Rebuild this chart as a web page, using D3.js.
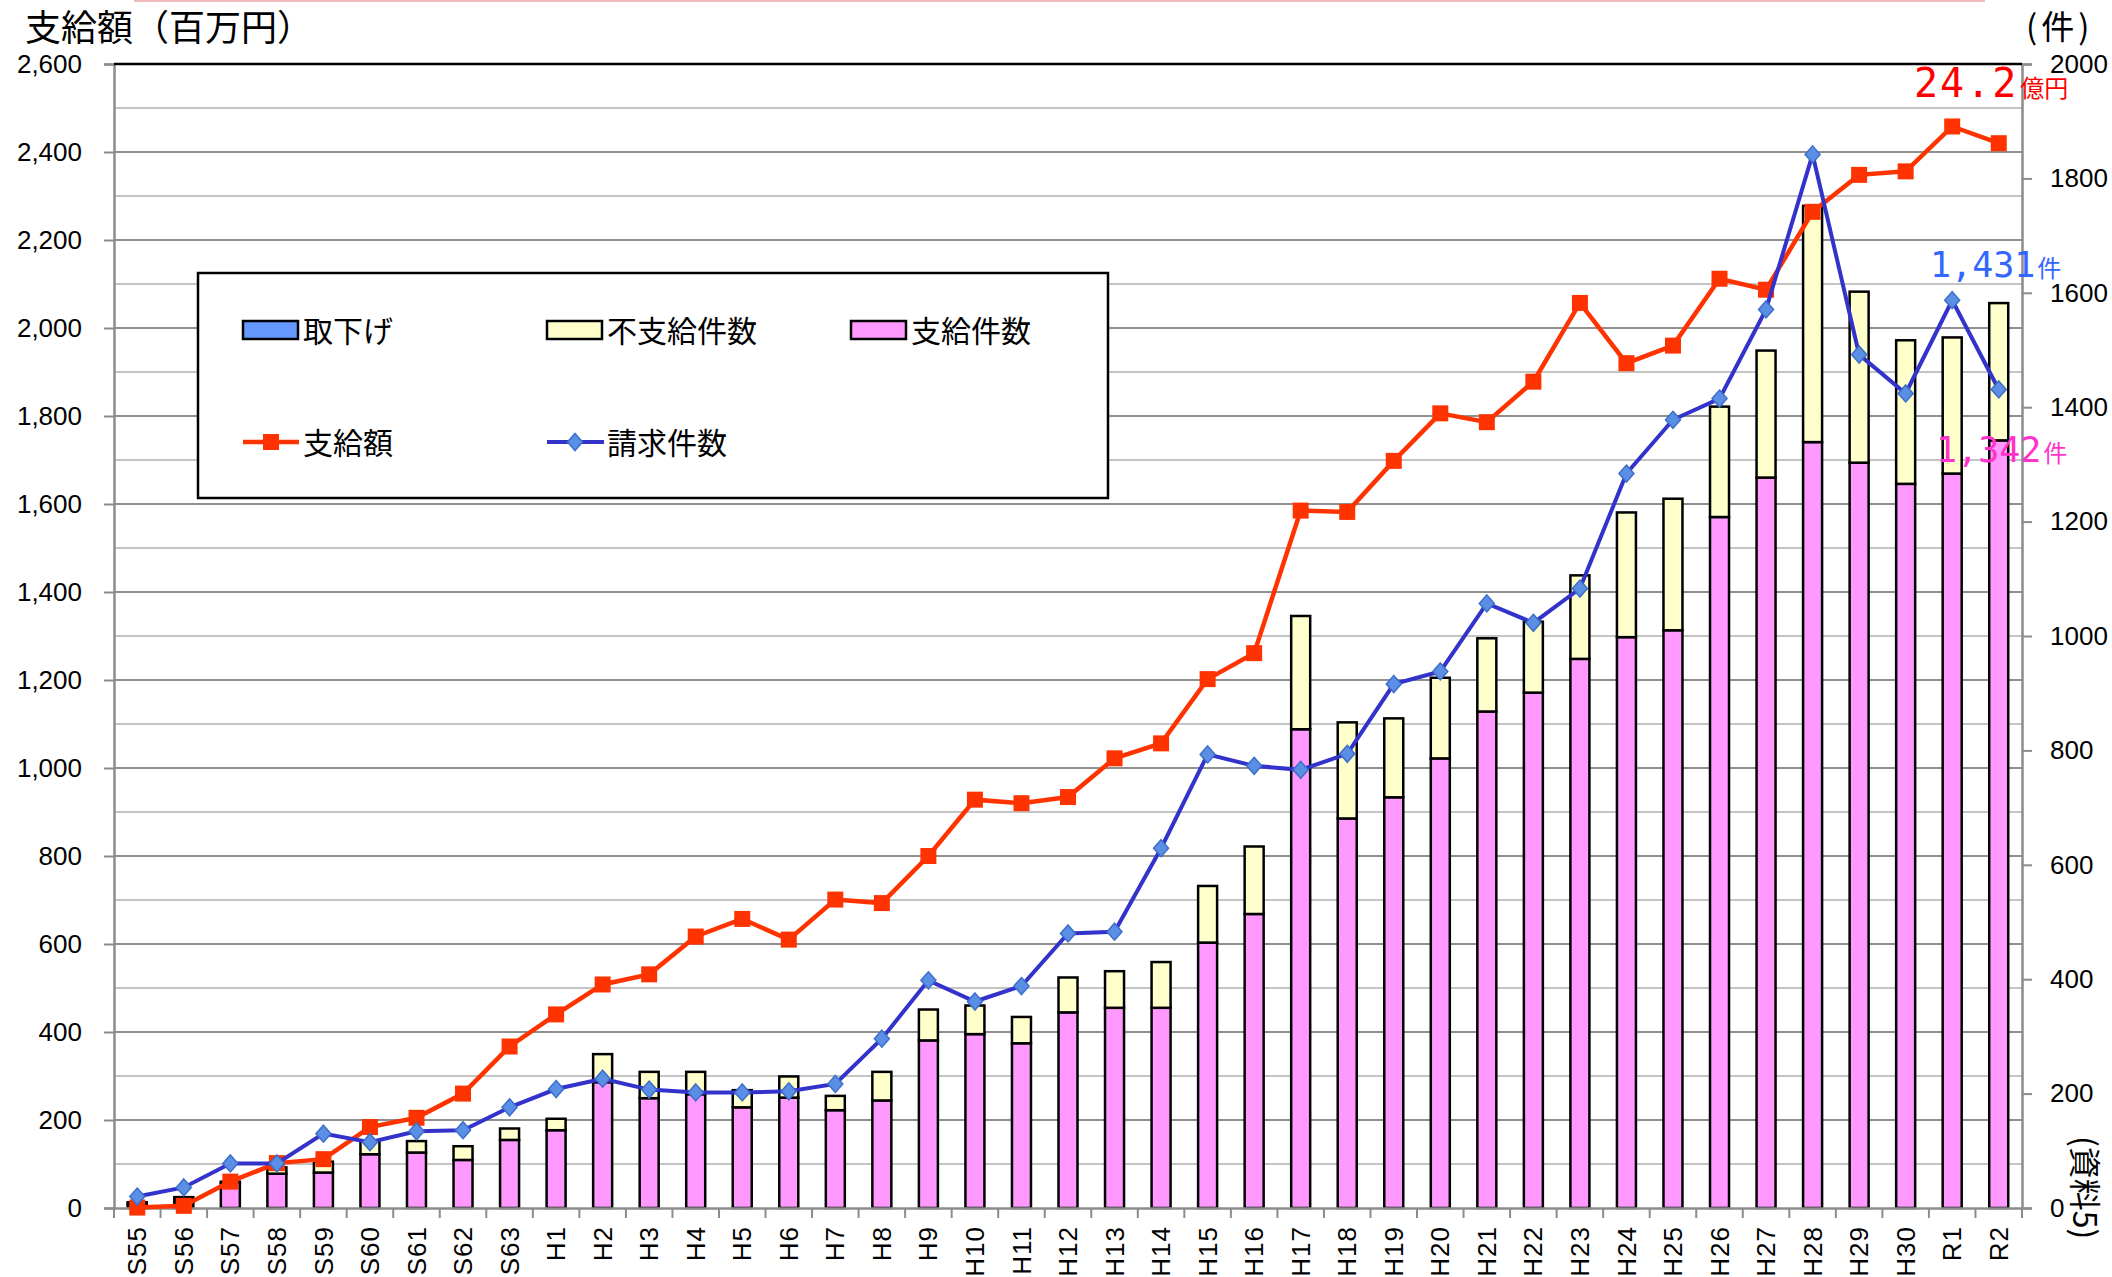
<!DOCTYPE html>
<html><head><meta charset="utf-8">
<script src="https://cdn.jsdelivr.net/npm/d3@7"></script>
<style>
html,body{margin:0;padding:0;background:#fff;}
svg{display:block;}
</style></head>
<body>
<svg id="chart" width="2112" height="1277"></svg>
<script>
// ---- data ----
const categories = ["S55","S56","S57","S58","S59","S60","S61","S62","S63",
  "H1","H2","H3","H4","H5","H6","H7","H8","H9","H10","H11","H12","H13","H14","H15",
  "H16","H17","H18","H19","H20","H21","H22","H23","H24","H25","H26","H27","H28","H29","H30",
  "R1","R2"];
// 支給額 (百万円) - left axis
const paidAmount = [1,5,60,102,111,184,205,260,367,
  440,508,531,617,657,610,701,693,800,928,920,934,1022,1056,1202,
  1261,1585,1582,1698,1806,1786,1878,2057,1920,1960,2112,2087,2264,2348,2356,
  2458,2420];
// 請求件数 - right axis
const claims = [20,36,78,78,130,115,134,136,176,
  208,226,207,202,202,204,217,296,398,361,388,480,483,629,793,
  773,766,794,916,938,1057,1023,1083,1284,1378,1415,1571,1842,1492,1424,
  1587,1431];
// 支給件数 - right axis (stack bottom)
const paidCount = [5,10,44,60,62,94,97,84,119,
  136,220,192,199,176,193,171,188,293,304,288,342,350,350,464,
  514,837,681,718,786,868,901,960,998,1010,1208,1277,1339,1303,1266,
  1284,1342];
// 不支給件数
const notPaidCount = [3,5,2,11,19,23,20,24,20,
  20,49,46,39,30,37,25,50,54,50,46,61,64,80,99,
  118,198,168,138,141,128,124,146,218,230,193,222,413,299,251,
  238,240];
// 取下げ
const withdrawn = [2,4,0,0,0,0,0,0,0,
  0,0,0,0,0,0,0,0,0,0,0,0,0,0,0,
  0,0,0,0,0,0,0,0,0,0,0,0,0,0,0,
  0,0];
const leftTicks = d3.range(0, 2601, 200);
const rightTicks = d3.range(0, 2001, 200);

// ---- styles ----
const C = {paid:"#ff99ff", notPaid:"#ffffcc", withdrawn:"#6699ff",
  amount:"#ff3300", claims:"#3333cc", diamond:"#5b8fe6", diamondStroke:"#3d6fc9"};
const svg = d3.select("#chart");
const L = 114, R = 2022, T = 64, B = 1208;

const x = d3.scaleBand().domain(categories).range([L, R]).padding(0);
const yL = d3.scaleLinear().domain([0, 2600]).range([B, T]);
const yR = d3.scaleLinear().domain([0, 2000]).range([B, T]);

// top faint line
svg.append("line").attr("x1",134).attr("x2",1985).attr("y1",1).attr("y2",1)
  .attr("stroke","#f2bcbc").attr("stroke-width",2);

// gridlines
const grid = svg.append("g");
d3.range(100, 2600, 100).forEach(v => {
  grid.append("line").attr("x1",L).attr("x2",R).attr("y1",yL(v)).attr("y2",yL(v))
    .attr("stroke", v % 200 === 0 ? "#8f8f8f" : "#c4c4c4").attr("stroke-width",2);
});

// stacked bars
const stackData = categories.map((c,i)=>({cat:c, paid:paidCount[i], notPaid:notPaidCount[i], withdrawn:withdrawn[i]}));
const keys = ["paid","notPaid","withdrawn"];
const series = d3.stack().keys(keys)(stackData);
const bw = 19;
const barG = svg.append("g");
series.forEach(s => {
  barG.selectAll(null).data(s.filter(d => d[1] - d[0] > 0)).join("rect")
    .attr("x", d => x(d.data.cat) + x.bandwidth()/2 - bw/2)
    .attr("width", bw)
    .attr("y", d => yR(d[1]))
    .attr("height", d => yR(d[0]) - yR(d[1]))
    .attr("fill", C[s.key])
    .attr("stroke", "#000").attr("stroke-width", 2.5);
});

// axes
const axL = svg.append("g").attr("transform",`translate(${L},0)`)
  .call(d3.axisLeft(yL).tickValues(leftTicks).tickFormat(d3.format(",")).tickSize(10).tickPadding(22));
const axR = svg.append("g").attr("transform",`translate(${R},0)`)
  .call(d3.axisRight(yR).tickValues(rightTicks).tickFormat(d3.format("d")).tickSize(10).tickPadding(18));
[axL, axR].forEach(a => {
  a.select(".domain").attr("stroke","#8c8c8c").attr("stroke-width",2.5);
  a.selectAll(".tick line").attr("stroke","#8c8c8c").attr("stroke-width",2);
  a.selectAll("text").attr("font-family","'Liberation Sans', Arial, sans-serif")
    .attr("font-size",26).attr("fill","#000");
});
const axB = svg.append("g").attr("transform",`translate(0,${B})`)
  .call(d3.axisBottom(x).tickSize(0).tickPadding(0));
axB.select(".domain").attr("stroke","#8c8c8c").attr("stroke-width",2.5);
axB.selectAll(".tick text")
  .attr("font-family","'Liberation Sans', Arial, sans-serif").attr("font-size",26).attr("fill","#000")
  .attr("letter-spacing",1)
  .attr("transform","translate(0,18) rotate(-90)")
  .attr("text-anchor","end").attr("dy","0.35em").attr("y",0).attr("x",0);
// boundary ticks on x axis
svg.append("g").selectAll("line").data(d3.range(categories.length + 1)).join("line")
  .attr("x1", i => L + i * x.step()).attr("x2", i => L + i * x.step())
  .attr("y1", B).attr("y2", B + 10).attr("stroke","#8c8c8c").attr("stroke-width",2);

// top border
svg.append("line").attr("x1",L).attr("x2",R).attr("y1",T).attr("y2",T)
  .attr("stroke","#000").attr("stroke-width",2.5);

const cx = c => x(c) + x.bandwidth()/2;
// amount line (left axis)
svg.append("path").datum(paidAmount)
  .attr("d", d3.line().x((d,i)=>cx(categories[i])).y(d=>yL(d)))
  .attr("fill","none").attr("stroke",C.amount).attr("stroke-width",4.5);
svg.append("g").selectAll("rect").data(paidAmount).join("rect")
  .attr("x",(d,i)=>cx(categories[i])-8).attr("y",d=>yL(d)-8)
  .attr("width",16).attr("height",16).attr("fill",C.amount);

// claims line (right axis)
const diamond = "M0,-8.5L7.5,0L0,8.5L-7.5,0Z";
svg.append("path").datum(claims)
  .attr("d", d3.line().x((d,i)=>cx(categories[i])).y(d=>yR(d)))
  .attr("fill","none").attr("stroke",C.claims).attr("stroke-width",4);
svg.append("g").selectAll("path").data(claims).join("path")
  .attr("transform",(d,i)=>`translate(${cx(categories[i])},${yR(d)})`)
  .attr("d",diamond).attr("fill",C.diamond).attr("stroke",C.diamondStroke).attr("stroke-width",1.5);

// legend
const lg = svg.append("g");
lg.append("rect").attr("x",198).attr("y",273).attr("width",910).attr("height",225)
  .attr("fill","#fff").attr("stroke","#000").attr("stroke-width",2.5);
const jp = "'Noto Sans CJK JP', sans-serif";
const legendBars = [
  {label:"取下げ", color:C.withdrawn, x:243},
  {label:"不支給件数", color:C.notPaid, x:547},
  {label:"支給件数", color:C.paid, x:851}];
legendBars.forEach(d => {
  lg.append("rect").attr("x",d.x).attr("y",321).attr("width",55).attr("height",18)
    .attr("fill",d.color).attr("stroke","#000").attr("stroke-width",2.5);
  lg.append("text").attr("x",d.x+60).attr("y",342).text(d.label)
    .attr("font-family",jp).attr("font-size",30).attr("fill","#000");
});
lg.append("line").attr("x1",243).attr("x2",299).attr("y1",442).attr("y2",442)
  .attr("stroke",C.amount).attr("stroke-width",4.5);
lg.append("rect").attr("x",263).attr("y",434).attr("width",16).attr("height",16).attr("fill",C.amount);
lg.append("text").attr("x",303).attr("y",454).text("支給額")
  .attr("font-family",jp).attr("font-size",30).attr("fill","#000");
lg.append("line").attr("x1",547).attr("x2",604).attr("y1",442).attr("y2",442)
  .attr("stroke",C.claims).attr("stroke-width",4);
lg.append("path").attr("transform","translate(575,442)").attr("d",diamond)
  .attr("fill",C.diamond).attr("stroke",C.diamondStroke).attr("stroke-width",1.5);
lg.append("text").attr("x",607).attr("y",454).text("請求件数")
  .attr("font-family",jp).attr("font-size",30).attr("fill","#000");

// titles
svg.append("text").attr("x",25).attr("y",41).text("支給額（百万円）")
  .attr("font-family",jp).attr("font-size",36).attr("fill","#000");
svg.append("text").attr("x",2026).attr("y",39).text("(件)")
  .attr("font-family",jp).attr("font-size",33).attr("fill","#000").attr("letter-spacing",4);

// annotations
const mono = "'DejaVu Sans Mono', monospace";
function note(txt, unit, xx, yy, color, size, ls) {
  const t = svg.append("text").attr("x",xx).attr("y",yy).attr("fill",color);
  t.append("tspan").text(txt).attr("font-family",mono).attr("font-size",size).attr("letter-spacing",ls);
  t.append("tspan").text(unit).attr("font-family",jp).attr("font-size",24).attr("dx",2).attr("letter-spacing",0);
}
note("24.2", "億円", 1914, 97, "#ff0000", 40, 2);
note("1,431", "件", 1930, 277, "#3366ff", 35, 0);
note("1,342", "件", 1936, 462, "#ff33cc", 35, 0);

// source note (vertical)
svg.append("text").attr("transform","translate(2073,1136) rotate(90)")
  .text("(資料5)").attr("font-family",jp).attr("font-size",32).attr("fill","#000");
</script>
</body></html>
